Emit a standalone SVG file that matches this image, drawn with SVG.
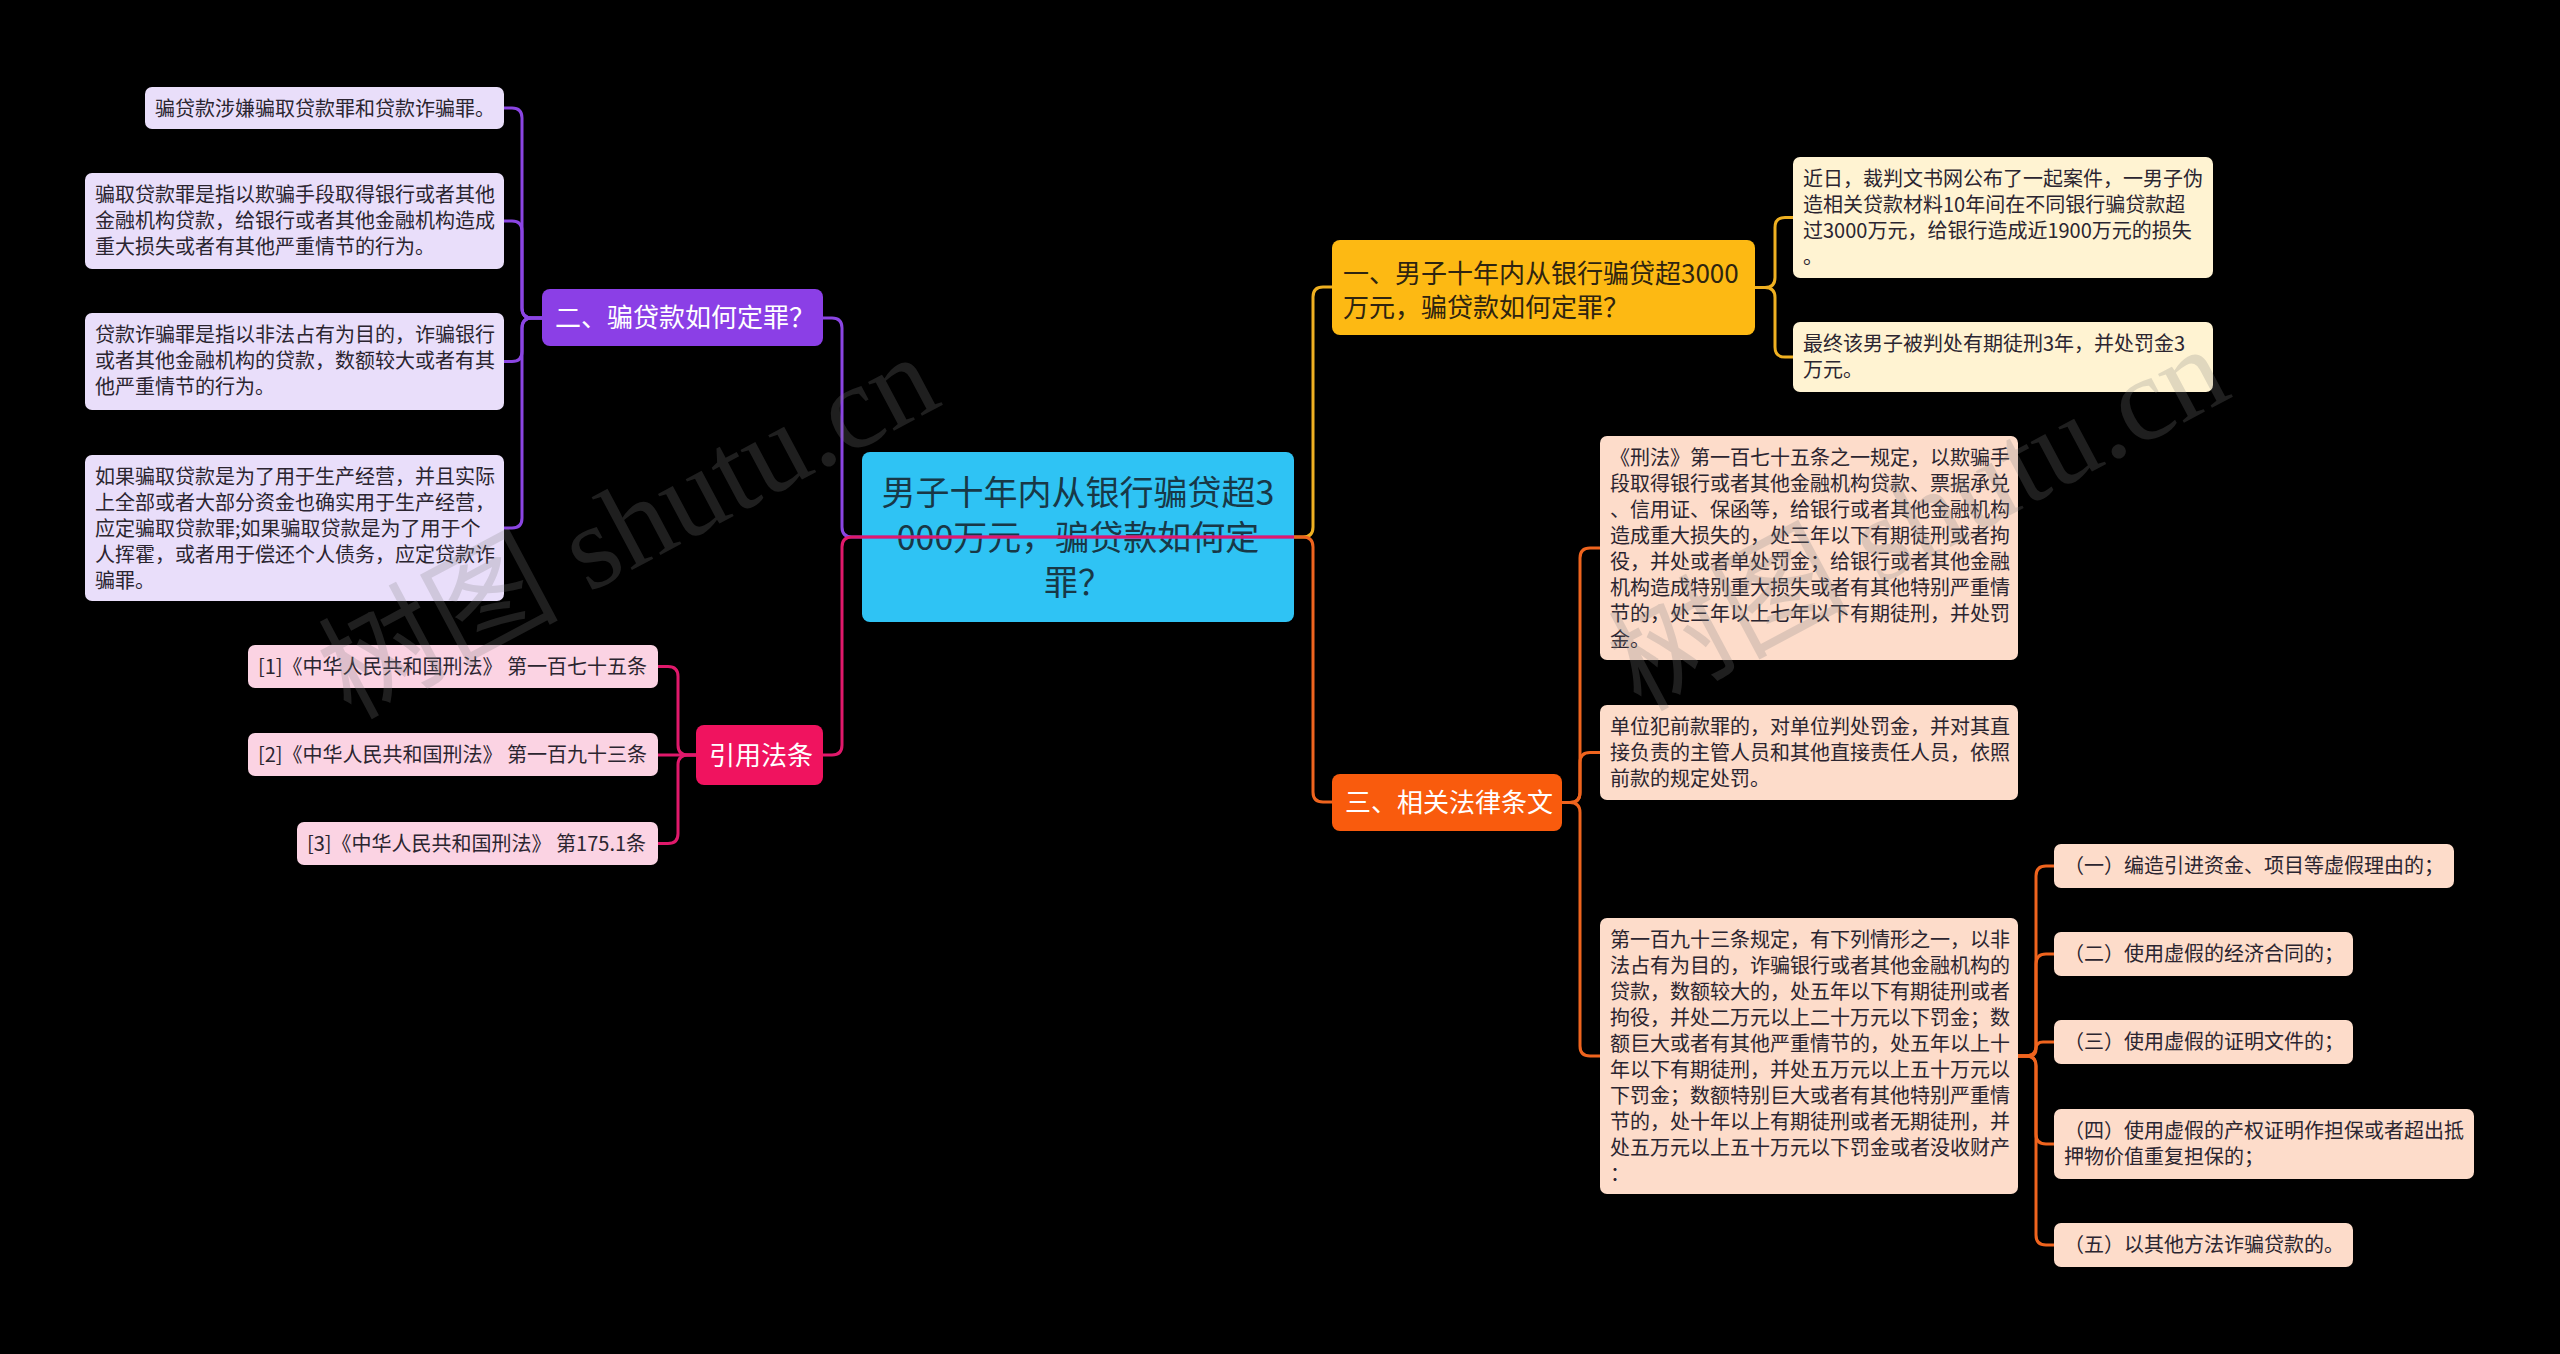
<svg xmlns="http://www.w3.org/2000/svg" width="2560" height="1354" viewBox="0 0 2560 1354">
<defs>
<style>
.t{font-family:"Noto Sans CJK SC","Noto Sans",sans-serif;}
.s20{font-size:20px;}
.s26{font-size:26px;}
.s34{font-size:34px;}
.pc{fill:#E9DEFA;}
.pk{fill:#FBD3E3;}
.yc{fill:#FFF3D2;}
.oc{fill:#FDDCCA;}
.dk{fill:#2B2530;}
.wt{fill:#FFFFFF;}
.c{fill:none;stroke-width:3;}
.cp{stroke:#8B45E3;}
.ck{stroke:#E0196B;}
.cy{stroke:#EFB021;}
.co{stroke:#EF641E;}
.wm{font-family:"Liberation Serif","Noto Sans CJK SC",serif;font-size:120px;fill:#808080;opacity:0.24;}
</style>
</defs>
<rect x="0" y="0" width="2560" height="1354" fill="#000000"/>

<g id="root">
<rect x="862" y="452" width="432" height="170" rx="8" fill="#2FC3F4"/>
<text class="t s34" fill="#183847" text-anchor="middle"><tspan x="1078" y="505">男子十年内从银行骗贷超3</tspan><tspan x="1078" y="550">000万元，骗贷款如何定</tspan><tspan x="1078" y="595">罪？</tspan></text>
</g>

<g id="n2">
<rect x="542" y="289" width="281" height="57" rx="8" fill="#8B3FE6"/>
<text class="t s26 wt" x="555" y="327">二、骗贷款如何定罪？</text>
</g>
<g id="n2-1">
<rect class="pc" x="145" y="87" width="359" height="42" rx="7"/>
<text class="t s20 dk" x="155" y="116">骗贷款涉嫌骗取贷款罪和贷款诈骗罪。</text>
</g>
<g id="n2-2">
<rect class="pc" x="85" y="173" width="419" height="96" rx="7"/>
<text class="t s20 dk"><tspan x="95" y="202">骗取贷款罪是指以欺骗手段取得银行或者其他</tspan><tspan x="95" y="228">金融机构贷款，给银行或者其他金融机构造成</tspan><tspan x="95" y="254">重大损失或者有其他严重情节的行为。</tspan></text>
</g>
<g id="n2-3">
<rect class="pc" x="85" y="313" width="419" height="97" rx="7"/>
<text class="t s20 dk"><tspan x="95" y="342">贷款诈骗罪是指以非法占有为目的，诈骗银行</tspan><tspan x="95" y="368">或者其他金融机构的贷款，数额较大或者有其</tspan><tspan x="95" y="394">他严重情节的行为。</tspan></text>
</g>
<g id="n2-4">
<rect class="pc" x="85" y="455" width="419" height="146" rx="7"/>
<text class="t s20 dk"><tspan x="95" y="484">如果骗取贷款是为了用于生产经营，并且实际</tspan><tspan x="95" y="510">上全部或者大部分资金也确实用于生产经营，</tspan><tspan x="95" y="536">应定骗取贷款罪;如果骗取贷款是为了用于个</tspan><tspan x="95" y="562">人挥霍，或者用于偿还个人债务，应定贷款诈</tspan><tspan x="95" y="588">骗罪。</tspan></text>
</g>

<g id="n4">
<rect x="696" y="725" width="127" height="60" rx="8" fill="#F0135F"/>
<text class="t s26 wt" x="709" y="765">引用法条</text>
</g>
<g id="n4-1">
<rect class="pk" x="248" y="645" width="410" height="43" rx="7"/>
<text class="t s20 dk" x="258" y="674">[1]《中华人民共和国刑法》 第一百七十五条</text>
</g>
<g id="n4-2">
<rect class="pk" x="248" y="733" width="410" height="43" rx="7"/>
<text class="t s20 dk" x="258" y="762">[2]《中华人民共和国刑法》 第一百九十三条</text>
</g>
<g id="n4-3">
<rect class="pk" x="297" y="822" width="361" height="43" rx="7"/>
<text class="t s20 dk" x="307" y="851">[3]《中华人民共和国刑法》 第175.1条</text>
</g>

<g id="n1">
<rect x="1332" y="240" width="423" height="95" rx="8" fill="#FDB913"/>
<text class="t s26" fill="#2E2410"><tspan x="1343" y="283">一、男子十年内从银行骗贷超3000</tspan><tspan x="1343" y="317">万元，骗贷款如何定罪？</tspan></text>
</g>
<g id="n1-1">
<rect class="yc" x="1793" y="157" width="420" height="121" rx="7"/>
<text class="t s20 dk"><tspan x="1803" y="186">近日，裁判文书网公布了一起案件，一男子伪</tspan><tspan x="1803" y="212">造相关贷款材料10年间在不同银行骗贷款超</tspan><tspan x="1803" y="238">过3000万元，给银行造成近1900万元的损失</tspan><tspan x="1803" y="264">。</tspan></text>
</g>
<g id="n1-2">
<rect class="yc" x="1793" y="322" width="420" height="70" rx="7"/>
<text class="t s20 dk"><tspan x="1803" y="351">最终该男子被判处有期徒刑3年，并处罚金3</tspan><tspan x="1803" y="377">万元。</tspan></text>
</g>

<g id="n3">
<rect x="1332" y="774" width="230" height="57" rx="8" fill="#F95B0D"/>
<text class="t s26 wt" x="1345" y="812">三、相关法律条文</text>
</g>
<g id="n3-1">
<rect class="oc" x="1600" y="436" width="418" height="224" rx="7"/>
<text class="t s20 dk"><tspan x="1610" y="465">《刑法》第一百七十五条之一规定，以欺骗手</tspan><tspan x="1610" y="491">段取得银行或者其他金融机构贷款、票据承兑</tspan><tspan x="1610" y="517">、信用证、保函等，给银行或者其他金融机构</tspan><tspan x="1610" y="543">造成重大损失的，处三年以下有期徒刑或者拘</tspan><tspan x="1610" y="569">役，并处或者单处罚金；给银行或者其他金融</tspan><tspan x="1610" y="595">机构造成特别重大损失或者有其他特别严重情</tspan><tspan x="1610" y="621">节的，处三年以上七年以下有期徒刑，并处罚</tspan><tspan x="1610" y="647">金。</tspan></text>
</g>
<g id="n3-2">
<rect class="oc" x="1600" y="705" width="418" height="95" rx="7"/>
<text class="t s20 dk"><tspan x="1610" y="734">单位犯前款罪的，对单位判处罚金，并对其直</tspan><tspan x="1610" y="760">接负责的主管人员和其他直接责任人员，依照</tspan><tspan x="1610" y="786">前款的规定处罚。</tspan></text>
</g>
<g id="n3-3">
<rect class="oc" x="1600" y="918" width="418" height="276" rx="7"/>
<text class="t s20 dk"><tspan x="1610" y="947">第一百九十三条规定，有下列情形之一，以非</tspan><tspan x="1610" y="973">法占有为目的，诈骗银行或者其他金融机构的</tspan><tspan x="1610" y="999">贷款，数额较大的，处五年以下有期徒刑或者</tspan><tspan x="1610" y="1025">拘役，并处二万元以上二十万元以下罚金；数</tspan><tspan x="1610" y="1051">额巨大或者有其他严重情节的，处五年以上十</tspan><tspan x="1610" y="1077">年以下有期徒刑，并处五万元以上五十万元以</tspan><tspan x="1610" y="1103">下罚金；数额特别巨大或者有其他特别严重情</tspan><tspan x="1610" y="1129">节的，处十年以上有期徒刑或者无期徒刑，并</tspan><tspan x="1610" y="1155">处五万元以上五十万元以下罚金或者没收财产</tspan><tspan x="1610" y="1181">：</tspan></text>
</g>
<g id="n3-3-1">
<rect class="oc" x="2054" y="844" width="400" height="44" rx="7"/>
<text class="t s20 dk" x="2064" y="873">（一）编造引进资金、项目等虚假理由的；</text>
</g>
<g id="n3-3-2">
<rect class="oc" x="2054" y="932" width="299" height="44" rx="7"/>
<text class="t s20 dk" x="2064" y="961">（二）使用虚假的经济合同的；</text>
</g>
<g id="n3-3-3">
<rect class="oc" x="2054" y="1020" width="299" height="44" rx="7"/>
<text class="t s20 dk" x="2064" y="1049">（三）使用虚假的证明文件的；</text>
</g>
<g id="n3-3-4">
<rect class="oc" x="2054" y="1109" width="420" height="70" rx="7"/>
<text class="t s20 dk"><tspan x="2064" y="1138">（四）使用虚假的产权证明作担保或者超出抵</tspan><tspan x="2064" y="1164">押物价值重复担保的；</tspan></text>
</g>
<g id="n3-3-5">
<rect class="oc" x="2054" y="1223" width="299" height="44" rx="7"/>
<text class="t s20 dk" x="2064" y="1252">（五）以其他方法诈骗贷款的。</text>
</g>

<g id="connectors">
<path class="c cp" d="M1294,537 H852 Q842,537 842,527 V328 Q842,318 832,318 H823"/>
<path class="c ck" d="M1294,537 H852 Q842,537 842,547 V745 Q842,755 832,755 H823"/>
<path class="c cy" d="M1294,537 H1303 Q1313,537 1313,527 V297 Q1313,287 1323,287 H1332"/>
<path class="c co" d="M1294,537 H1303 Q1313,537 1313,547 V792 Q1313,802 1323,802 H1332"/>

<path class="c cp" d="M542,318 H532 Q522,318 522,308 V118 Q522,108 512,108 H504"/>
<path class="c cp" d="M542,318 H532 Q522,318 522,308 V231 Q522,221 512,221 H504"/>
<path class="c cp" d="M542,318 H532 Q522,318 522,328 V351.5 Q522,361.5 512,361.5 H504"/>
<path class="c cp" d="M542,318 H532 Q522,318 522,328 V518 Q522,528 512,528 H504"/>

<path class="c ck" d="M696,755 H688 Q678,755 678,745 V676.5 Q678,666.5 668,666.5 H658"/>
<path class="c ck" d="M696,755 H658"/>
<path class="c ck" d="M696,755 H688 Q678,755 678,765 V833.5 Q678,843.5 668,843.5 H658"/>

<path class="c cy" d="M1755,287.5 H1765 Q1775,287.5 1775,277.5 V227.5 Q1775,217.5 1785,217.5 H1793"/>
<path class="c cy" d="M1755,287.5 H1765 Q1775,287.5 1775,297.5 V347 Q1775,357 1785,357 H1793"/>

<path class="c co" d="M1562,802.5 H1570 Q1580,802.5 1580,792.5 V558 Q1580,548 1590,548 H1600"/>
<path class="c co" d="M1562,802.5 H1570 Q1580,802.5 1580,792.5 V762.5 Q1580,752.5 1590,752.5 H1600"/>
<path class="c co" d="M1562,802.5 H1570 Q1580,802.5 1580,812.5 V1046 Q1580,1056 1590,1056 H1600"/>

<path class="c co" d="M2018,1056 H2026 Q2036,1056 2036,1046 V876 Q2036,866 2046,866 H2054"/>
<path class="c co" d="M2018,1056 H2026 Q2036,1056 2036,1046 V964 Q2036,954 2046,954 H2054"/>
<path class="c co" d="M2018,1056 H2029 Q2036,1056 2036,1049 Q2036,1042 2043,1042 H2054"/>
<path class="c co" d="M2018,1056 H2026 Q2036,1056 2036,1066 V1134 Q2036,1144 2046,1144 H2054"/>
<path class="c co" d="M2018,1056 H2026 Q2036,1056 2036,1066 V1235 Q2036,1245 2046,1245 H2054"/>
</g>

<g id="watermarks">
<text class="wm" x="350" y="720" transform="rotate(-28 350 720)">树图 shutu.cn</text>
<text class="wm" x="1640" y="712" transform="rotate(-28 1640 712)">树图 shutu.cn</text>
</g>
</svg>
